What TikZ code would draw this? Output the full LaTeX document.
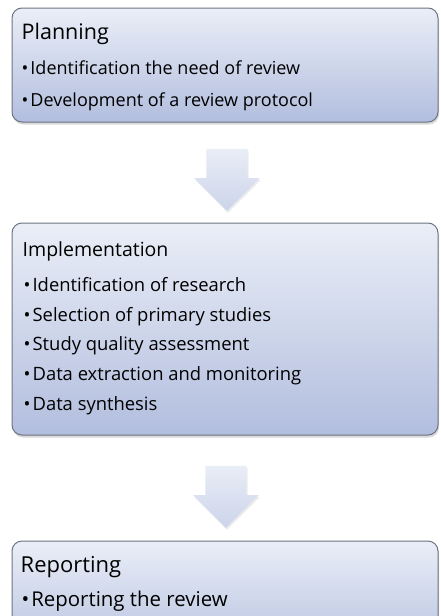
\documentclass[tikz,border=0pt]{standalone}
\usepackage{fontspec}
\setmainfont{Open Sans}
\usetikzlibrary{shapes.arrows,shadows,positioning}

\definecolor{boxtop}{HTML}{EAEEF7}
\definecolor{boxbot}{HTML}{B2BEDE}
\definecolor{arrtop}{HTML}{E9EDF6}
\definecolor{arrbot}{HTML}{CCD4EA}
\definecolor{boxline}{HTML}{6E7483}

\begin{document}
\begin{tikzpicture}[
    x=1pt, y=1pt,
    stage/.style={draw=boxline, line width=1pt, rounded corners=10pt, top color=boxtop, bottom color=boxbot,
        minimum width=426pt, drop shadow={shadow xshift=1pt, shadow yshift=-2.5pt, opacity=0.3}},
    head/.style={anchor=base west, inner sep=0pt, font=\fontsize{18}{22}\selectfont},
    item/.style={anchor=base west, inner sep=0pt, font=\fontsize{18}{22}\selectfont},
    flow/.style={single arrow, shape border rotate=270, draw=none, inner sep=20.5pt,
        minimum height=56pt, minimum width=65pt, single arrow head extend=12pt, single arrow head indent=0pt,
        top color=arrtop, bottom color=arrbot, drop shadow={shadow xshift=1pt, shadow yshift=-2pt, opacity=0.15}}
]
    \useasboundingbox (0,0) rectangle (440,-616);

    % three stages
    \node[stage, minimum height=114pt] (plan) at (225,-65) {};
    \node[stage, minimum height=212pt] (impl) at (225,-329) {};
    \node[stage, minimum height=120pt] (report) at (225,-601) {};

    % block arrows between stages
    \node[flow] (arr1) at (227,-169.5) {};
    \node[flow] (arr2) at (226,-486.5) {};

    % planning
    \node[head, font=\fontsize{21.5}{24}\selectfont] (plan-h) at ([xshift=10pt, yshift=-32pt]plan.north west) {Planning};
    \foreach \t [count=\i] in {Identification the need of review, Development of a review protocol}
        \node[item] (plan-\i) at ([xshift=10pt, yshift=-35pt-32pt*\i]plan.north west) {\textbullet\hspace{2pt}\t};

    % implementation
    \node[head, font=\fontsize{19.5}{22}\selectfont] (impl-h) at ([xshift=11pt, yshift=-34pt]impl.north west) {Implementation};
    \foreach \t [count=\i] in {Identification of research, Selection of primary studies, Study quality assessment,
            Data extraction and monitoring, Data synthesis}
        \node[item, font=\fontsize{18.4}{22}\selectfont] (impl-\i) at ([xshift=12pt, yshift=-39.5pt-29.6pt*\i]impl.north west) {\textbullet\hspace{2pt}\t};

    % reporting
    \node[head, font=\fontsize{22}{26}\selectfont] (report-h) at ([xshift=9pt, yshift=-32pt]report.north west) {Reporting};
    \node[item, font=\fontsize{20.4}{24}\selectfont] (report-1) at ([xshift=10pt, yshift=-66pt]report.north west) {\textbullet\hspace{2pt}Reporting the review};
\end{tikzpicture}
\end{document}
